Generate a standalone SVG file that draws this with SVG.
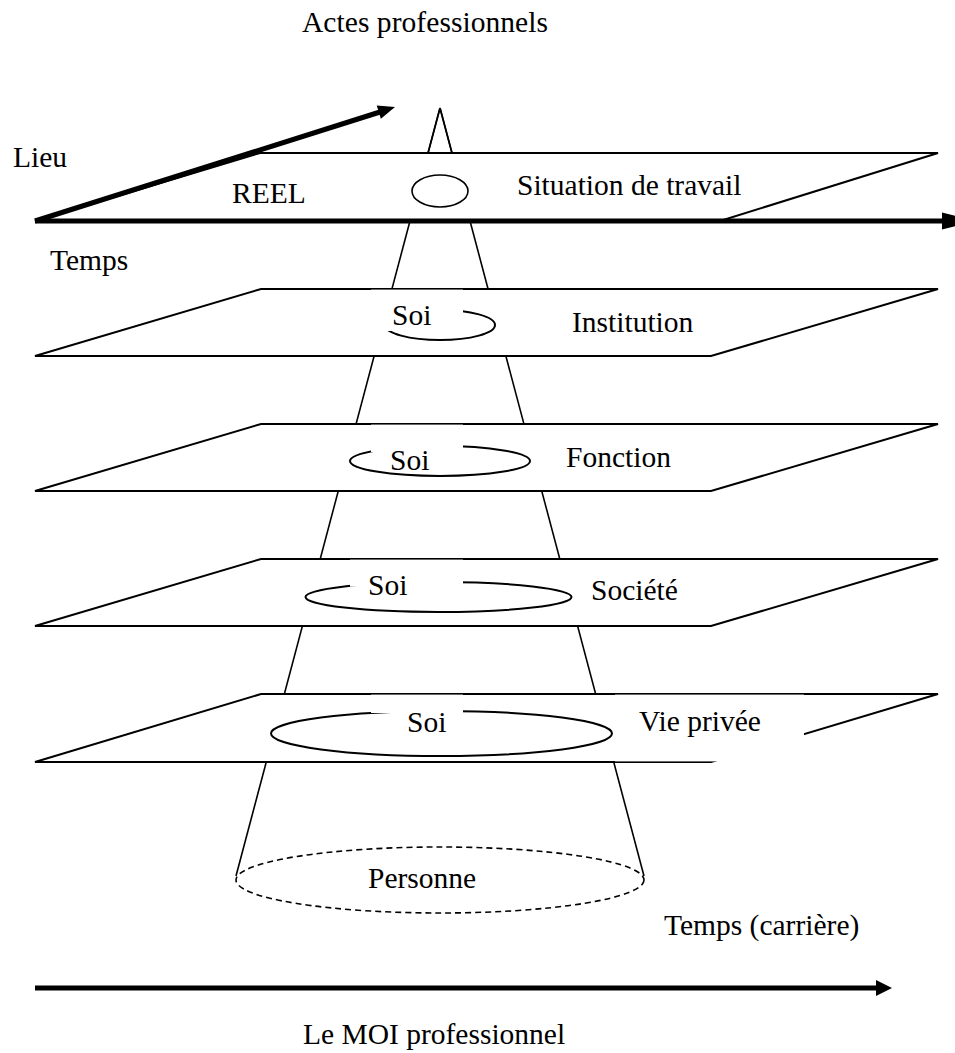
<svg xmlns="http://www.w3.org/2000/svg" width="955" height="1053" viewBox="0 0 955 1053">
<style>
text{font-family:"Liberation Serif","Times New Roman",serif;font-size:29.5px;fill:#000}
.plane{fill:#fff;stroke:#000;stroke-width:2;stroke-linejoin:miter}
.thin{fill:none;stroke:#000;stroke-width:1.6}
.soi{fill:none;stroke:#000;stroke-width:2}
.box{fill:#fff;stroke:none}
.axis{fill:none;stroke:#000;stroke-width:5}
.head{fill:#000;stroke:none}
</style>
<rect width="955" height="1053" fill="#fff"/>
<g id="cone">
<line class="thin" x1="440" y1="108" x2="236" y2="876"/>
<line class="thin" x1="440" y1="108" x2="644" y2="876"/>
</g>
<g id="personne">
<ellipse cx="440" cy="880" rx="204" ry="33" fill="none" stroke="#000" stroke-width="1.6" stroke-dasharray="6 4"/>
<text x="368" y="888">Personne</text>
</g>
<g id="plane-reel">
<polygon class="plane" points="260,153 938,153 720,221 35,221"/>
<ellipse class="thin" cx="440" cy="191" rx="28" ry="16"/>
<text x="232" y="203">REEL</text>
<text x="517" y="195">Situation de travail</text>
</g>
<g id="plane-institution">
<polygon class="plane" points="261,289 938,289 711,356 35,356"/>
<ellipse class="soi" cx="440" cy="325" rx="55" ry="15"/>
<rect class="box" x="371" y="289.6" width="92" height="41.4"/>
<text x="392" y="325">Soi</text>
<text x="572" y="332">Institution</text>
</g>
<g id="plane-fonction">
<polygon class="plane" points="261,424 938,424 711,491 35,491"/>
<ellipse class="soi" cx="440" cy="461" rx="90" ry="15"/>
<rect class="box" x="371" y="424.6" width="92" height="27.4"/>
<text x="390" y="470">Soi</text>
<text x="566" y="467">Fonction</text>
</g>
<g id="plane-societe">
<polygon class="plane" points="261,559 938,559 711,626 35,626"/>
<ellipse class="soi" cx="438.5" cy="597" rx="133" ry="15"/>
<rect class="box" x="350" y="559.6" width="113" height="27"/>
<text x="368" y="595">Soi</text>
<text x="591" y="600">Société</text>
</g>
<g id="plane-vie-privee">
<polygon class="plane" points="261,694 938,694 711,762 35,762"/>
<ellipse class="soi" cx="441.5" cy="733.5" rx="170.5" ry="22.5"/>
<rect class="box" x="371" y="694.6" width="92" height="18.4"/>
<rect class="box" x="615" y="694.6" width="189" height="66.8"/>
<text x="407" y="732">Soi</text>
<text x="639" y="731">Vie privée</text>
</g>
<g id="connectors">
<line class="thin" x1="440" y1="108" x2="428" y2="153"/>
<line class="thin" x1="440" y1="108" x2="452" y2="153"/>
<line class="axis" x1="35" y1="221" x2="945" y2="221"/>
<polygon class="head" points="942,212.5 975,221 942,229.5"/>
<line class="axis" stroke-width="4.5" x1="35" y1="221" x2="380" y2="112"/>
<polygon class="head" points="395,107 376.7,105.4 380.9,118.8"/>
<line class="axis" x1="35" y1="988" x2="878" y2="988"/>
<polygon class="head" points="876,980 892,988 876,996"/>
</g>
<g id="labels">
<text x="302" y="32" font-size="31.5" textLength="246">Actes professionnels</text>
<text x="13" y="167">Lieu</text>
<text x="50" y="270">Temps</text>
<text x="664" y="935">Temps (carrière)</text>
<text x="303" y="1044">Le MOI professionnel</text>
</g>
</svg>
